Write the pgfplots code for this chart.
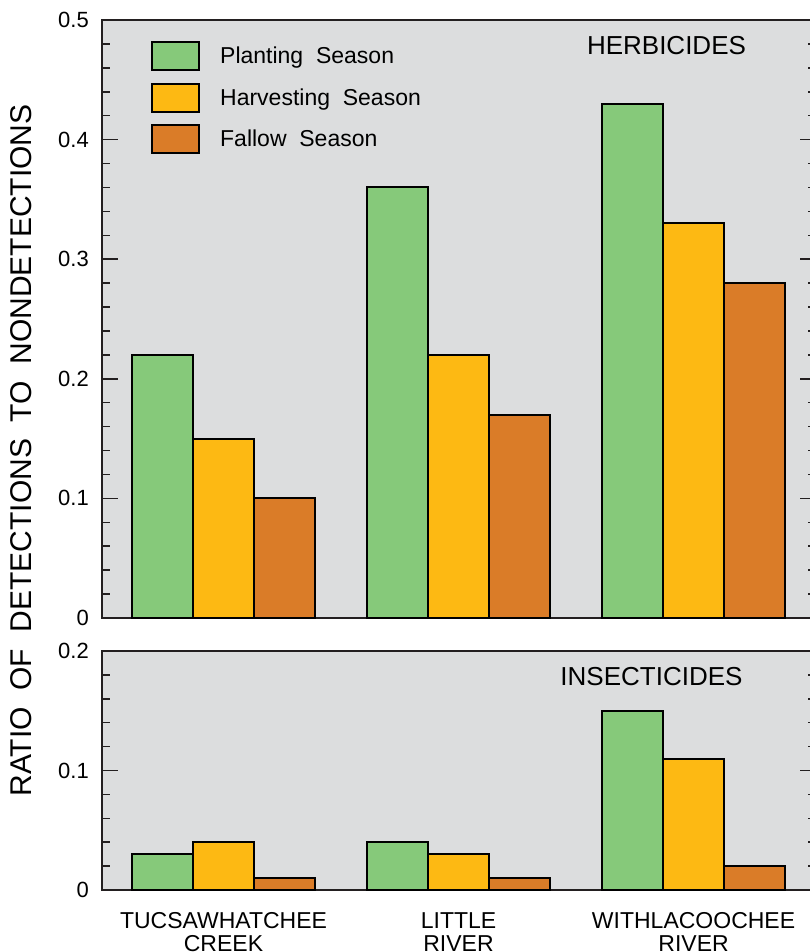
\documentclass[border=0pt]{standalone}
\usepackage{pgfplots}
\pgfplotsset{compat=1.18}
\usepackage{fontspec}
\setmainfont{Liberation Sans}
\definecolor{pgreen}{RGB}{134,201,122}
\definecolor{hyellow}{RGB}{253,185,19}
\definecolor{forange}{RGB}{218,124,40}
\definecolor{bggray}{RGB}{220,221,222}
\definecolor{axdark}{RGB}{35,31,32}

\pgfplotsset{
 common/.style={
  scale only axis, width=714pt,
  xmin=-0.517, xmax=2.521, ymin=0,
  axis background/.style={fill=bggray},
  axis line style={line width=2.7pt, color=axdark},
  tick align=inside, major tick length=16pt, minor tick length=8pt,
  every tick/.style={line width=1.5pt, color=axdark},
  ybar=0pt, bar width=61pt,
  /pgf/number format/assume math mode=true,
  tick label style={font=\fontsize{22}{24}\selectfont},
  yticklabel style={inner sep=0pt, xshift=-13pt},
  every axis plot/.append style={draw=black, line width=2pt},
  minor y tick num=4,
 }
}

\begin{document}
\begin{tikzpicture}
\begin{axis}[common, at={(102pt,-20pt)}, anchor=north west, height=598pt,
  ymax=0.5, ytick={0,0.1,0.2,0.3,0.4,0.5}, yticklabels={0,0.1,0.2,0.3,0.4,0.5},
  xtick=\empty,
  legend image code/.code={\draw[#1, line width=2pt, draw=black] (0pt,-14pt) rectangle (47pt,14pt);},
  legend style={at={(0.0686,0.9649)}, anchor=north west, draw=none, fill=none,
    inner sep=0pt, row sep=11.5pt, column sep=20pt,
    font=\fontsize{23}{25}\selectfont, nodes={inner sep=0pt}},
  legend cell align=left]
\addplot[fill=pgreen] coordinates {(0,0.22) (1,0.36) (2,0.43)};
\addplot[fill=hyellow] coordinates {(0,0.15) (1,0.22) (2,0.33)};
\addplot[fill=forange] coordinates {(0,0.10) (1,0.17) (2,0.28)};
\legend{Planting\ \ Season, Harvesting\ \ Season, Fallow\ \ Season}
\node[font=\fontsize{26}{28}\selectfont, anchor=base] at (rel axis cs:0.7906,0.9431) {HERBICIDES};
\end{axis}
\begin{axis}[common, at={(102pt,-651pt)}, anchor=north west, height=239pt,
  ymax=0.2, ytick={0,0.1,0.2}, yticklabels={0,0.1,0.2},
  xtick={0,1,2}, xticklabels={{TUCSAWHATCHEE\\CREEK},{LITTLE\\RIVER},{WITHLACOOCHEE\\RIVER}},
  xtick style={draw=none},
  xticklabel style={align=center, inner sep=0pt, yshift=-6pt, font=\fontsize{23}{23.5}\selectfont}]
\addplot[fill=pgreen] coordinates {(0,0.03) (1,0.04) (2,0.15)};
\addplot[fill=hyellow] coordinates {(0,0.04) (1,0.03) (2,0.11)};
\addplot[fill=forange] coordinates {(0,0.01) (1,0.01) (2,0.02)};
\node[font=\fontsize{26}{28}\selectfont, anchor=base] at (rel axis cs:0.7696,0.8577) {INSECTICIDES};
\end{axis}
\node[rotate=90, font=\fontsize{30}{32}\selectfont] at (21pt,-450.5pt) {RATIO\ \ OF\ \ DETECTIONS\ \ TO\ \ NONDETECTIONS};
\pgfresetboundingbox
\path (0pt,0pt) rectangle (809pt,-952pt);
\end{tikzpicture}
\end{document}
